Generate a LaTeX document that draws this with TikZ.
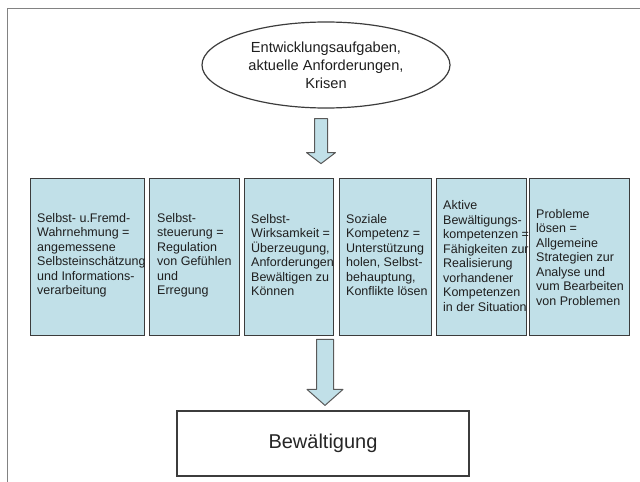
\documentclass[tikz,border=0pt]{standalone}
\usepackage{fontspec}
\setmainfont{Liberation Sans}
\usetikzlibrary{shapes.geometric,calc}

\definecolor{kblue}{RGB}{193,224,232}
\definecolor{kline}{RGB}{60,60,60}
\definecolor{kframe}{RGB}{130,130,130}

\tikzset{
  kbox/.style={draw=kline, line width=1.4pt, fill=kblue, minimum height=157pt, inner sep=0pt, anchor=north west},
  ktext/.style={anchor=west, align=left, inner sep=0pt, text=black!88, font=\fontsize{12.5}{14.5}\selectfont},
  fatarrow/.style={draw=kline!85, line width=1pt, fill=kblue, line join=round}
}

% block arrow: start, tip, half shaft, half head, head length
\newcommand{\blockarrow}[5]{%
  \draw[fatarrow] ($(#1)+(-#3,0)$) -- ($(#2)+(-#3,-#5)$) -- ($(#2)+(-#4,-#5)$) -- (#2)
    -- ($(#2)+(#4,-#5)$) -- ($(#2)+(#3,-#5)$) -- ($(#1)+(#3,0)$) -- cycle;}

\begin{document}
\begin{tikzpicture}[x=1pt,y=-1pt]
                  \useasboundingbox (0,0) rectangle (640,482);
                  \draw[kframe, line width=1pt] (7,500) -- (7,8) -- (660,8);

                  \node[ellipse, draw=kline, line width=1.2pt, fill=white, minimum width=248pt, minimum height=86pt, inner sep=0pt, align=center, text=black!88, font=\fontsize{14.6}{18}\selectfont] (ell) at (326,65) {Entwicklungsaufgaben,\\aktuelle Anforderungen,\\Krisen};

                  \node[kbox, minimum width=114pt] (k1) at (30,178) {};
                  \node[kbox, minimum width=90pt] (k2) at (149,178) {};
                  \node[kbox, minimum width=89pt] (k3) at (244,178) {};
                  \node[kbox, minimum width=92pt] (k4) at (339,178) {};
                  \node[kbox, minimum width=90pt] (k5) at (436,178) {};
                  \node[kbox, minimum width=100pt] (k6) at (529,178) {};

                  \node[ktext] (t1) at ($(k1.west)+(7,-2)$) {Selbst- u.Fremd-\\Wahrnehmung =\\angemessene\\Selbsteinschätzung\\und Informations-\\verarbeitung};
                  \node[ktext] (t2) at ($(k2.west)+(8,-2)$) {Selbst-\\steuerung =\\Regulation\\von Gefühlen\\und\\Erregung};
                  \node[ktext] (t3) at ($(k3.west)+(7,-2)$) {Selbst-\\Wirksamkeit =\\Überzeugung,\\Anforderungen\\Bewältigen zu\\Können};
                  \node[ktext] (t4) at ($(k4.west)+(7,-2)$) {Soziale\\Kompetenz =\\Unterstützung\\holen, Selbst-\\behauptung,\\Konflikte lösen};
                  \node[ktext] (t5) at ($(k5.west)+(7,-1)$) {Aktive\\Bewältigungs-\\kompetenzen =\\Fähigkeiten zur\\Realisierung\\vorhandener\\Kompetenzen\\in der Situation};
                  \node[ktext] (t6) at ($(k6.west)+(7,0)$) {Probleme\\lösen =\\Allgemeine\\Strategien zur\\Analyse und\\vum Bearbeiten\\von Problemen};

                  \node[draw=kline, line width=1.2pt, minimum width=292pt, minimum height=65pt, inner sep=0pt, text=black!85, font=\fontsize{20}{24}\selectfont] (bew) at (323,443.5) {Bewältigung};

                  \coordinate (a1s) at ($(ell.south)+(-5,10)$);
                  \coordinate (a1e) at ($(ell.south)+(-5,55)$);
                  \blockarrow{a1s}{a1e}{6.5}{14.5}{11}

                  \coordinate (a2s) at ($(bew.north)+(2,-71)$);
                  \coordinate (a2e) at ($(bew.north)+(2,-5)$);
                  \blockarrow{a2s}{a2e}{8.5}{18}{16}

                \end{tikzpicture}
\end{document}
